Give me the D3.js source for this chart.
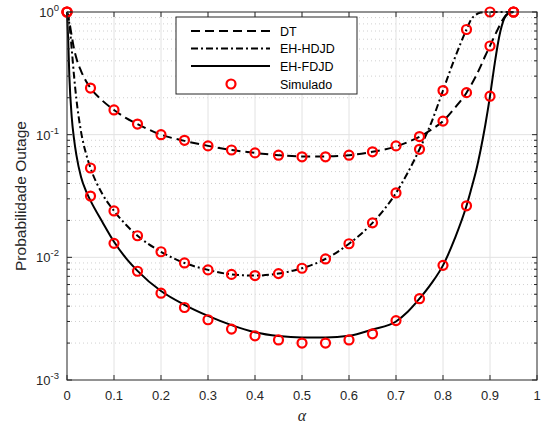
<!DOCTYPE html>
<html>
<head>
<meta charset="utf-8">
<script src="https://cdn.jsdelivr.net/npm/d3@7"></script>
<style>
  html, body { margin: 0; padding: 0; background: #fff; }
  svg { display: block; font-family: "Liberation Sans", Arial, sans-serif; }
</style>
</head>
<body>
<svg id="chart" width="543" height="425"></svg>
<script>
// simulated points (every 0.05)
const alphaSim = [0, 0.05, 0.1, 0.15, 0.2, 0.25, 0.3, 0.35, 0.4, 0.45, 0.5, 0.55, 0.6, 0.65, 0.7, 0.75, 0.8, 0.85, 0.9, 0.95];
const simDT   = [1, 0.240, 0.159, 0.122, 0.100, 0.090, 0.081, 0.075, 0.071, 0.068, 0.066, 0.066, 0.068, 0.0725, 0.081, 0.0965, 0.129, 0.220, 0.528, 1];
const simHDJD = [1, 0.0535, 0.0239, 0.0150, 0.0111, 0.0090, 0.0079, 0.00726, 0.0071, 0.00737, 0.00815, 0.0097, 0.0129, 0.0191, 0.0335, 0.076, 0.229, 0.72, 1, 1];
const simFDJD = [1, 0.0316, 0.0130, 0.0077, 0.0051, 0.0039, 0.0031, 0.0026, 0.00229, 0.00212, 0.0020, 0.0020, 0.00212, 0.00238, 0.00305, 0.0046, 0.0086, 0.0263, 0.206, 1];

// analytic curves
const alphaTh = [0, 0.0025, 0.005, 0.01, 0.015, 0.02, 0.03, 0.04, 0.05, 0.075, 0.1, 0.125, 0.15, 0.2, 0.25, 0.3, 0.35, 0.4, 0.45, 0.5, 0.55, 0.6, 0.65, 0.7, 0.725, 0.75, 0.775, 0.8, 0.825, 0.85, 0.86, 0.87, 0.88, 0.89, 0.9, 0.91, 0.92, 0.93, 0.94, 0.95];
const thDT   = [1, 0.92, 0.83, 0.64, 0.50, 0.42, 0.33, 0.275, 0.240, 0.19, 0.159, 0.137, 0.122, 0.100, 0.089, 0.081, 0.075, 0.071, 0.068, 0.0665, 0.0665, 0.068, 0.0725, 0.080, 0.087, 0.096, 0.110, 0.129, 0.165, 0.220, 0.255, 0.30, 0.36, 0.44, 0.53, 0.64, 0.77, 0.90, 0.98, 1];
const thHDJD = [1, 0.92, 0.80, 0.50, 0.30, 0.195, 0.105, 0.071, 0.0535, 0.033, 0.0239, 0.0185, 0.0150, 0.0111, 0.0090, 0.0079, 0.00726, 0.0071, 0.00737, 0.00815, 0.0097, 0.0129, 0.0191, 0.0335, 0.049, 0.076, 0.125, 0.229, 0.42, 0.72, 0.87, 0.95, 0.99, 1, 1, 1, 1, 1, 1, 1];
const thFDJD = [1, 0.60, 0.30, 0.14, 0.092, 0.068, 0.045, 0.035, 0.029, 0.0195, 0.0134, 0.0099, 0.00776, 0.00531, 0.0041, 0.00333, 0.0028, 0.00245, 0.00228, 0.00222, 0.00222, 0.00229, 0.00258, 0.0030, 0.0036, 0.0046, 0.0061, 0.0086, 0.0142, 0.0263, 0.036, 0.050, 0.075, 0.12, 0.206, 0.38, 0.64, 0.88, 0.98, 1];

const xTicks = [0, 0.1, 0.2, 0.3, 0.4, 0.5, 0.6, 0.7, 0.8, 0.9, 1];
const yTicks = [1e-3, 1e-2, 1e-1, 1];
const seriesNames = ['DT', 'EH-HDJD', 'EH-FDJD', 'Simulado'];

const width = 543, height = 425;
const margin = { top: 12, right: 6, bottom: 45, left: 67 };
const axisColor = '#262626';

const svg = d3.select('#chart');

const x = d3.scaleLinear([0, 1], [margin.left, width - margin.right]);
const y = d3.scaleLog([1e-3, 1], [height - margin.bottom, margin.top]);

const [x0, x1] = x.range();
const [y0, y1] = y.range();

// grid
const minorY = [];
[1e-3, 1e-2, 1e-1].forEach(d => { for (let k = 2; k <= 9; k++) minorY.push(d * k); });

const grid = svg.append('g');
grid.selectAll('.minor-y')
  .data(minorY)
  .join('line')
    .attr('x1', x0).attr('x2', x1)
    .attr('y1', d => y(d)).attr('y2', d => y(d))
    .attr('stroke', '#c4c4c4')
    .attr('stroke-width', 0.8)
    .attr('stroke-dasharray', '1,3');
grid.selectAll('.major-y')
  .data(yTicks.slice(1, -1))
  .join('line')
    .attr('x1', x0).attr('x2', x1)
    .attr('y1', d => y(d)).attr('y2', d => y(d))
    .attr('stroke', '#e2e2e2')
    .attr('stroke-width', 1);
grid.selectAll('.major-x')
  .data(xTicks.slice(1, -1))
  .join('line')
    .attr('x1', d => x(d)).attr('x2', d => x(d))
    .attr('y1', y0).attr('y2', y1)
    .attr('stroke', '#e2e2e2')
    .attr('stroke-width', 1);

// curves
const styles = [
  { data: thDT, dash: '9,5' },
  { data: thHDJD, dash: '7,3,2,3' },
  { data: thFDJD, dash: null }
];

const line = d3.line()
  .x(d => x(d[0]))
  .y(d => y(d[1]))
  .curve(d3.curveMonotoneX);

const plot = svg.append('g');
styles.forEach(s => {
  plot.append('path')
    .datum(alphaTh.map((a, i) => [a, s.data[i]]))
    .attr('d', line)
    .attr('fill', 'none')
    .attr('stroke', '#000')
    .attr('stroke-width', 2)
    .attr('stroke-dasharray', s.dash);
});

const simPoints = [];
[simDT, simHDJD, simFDJD].forEach(arr => {
  arr.forEach((v, i) => simPoints.push([alphaSim[i], v]));
});

plot.selectAll('.sim-point')
  .data(simPoints)
  .join('circle')
    .attr('class', 'sim-point')
    .attr('cx', d => x(d[0]))
    .attr('cy', d => y(d[1]))
    .attr('r', 4.5)
    .attr('fill', 'none')
    .attr('stroke', '#ff0000')
    .attr('stroke-width', 2.2);

// axes box + ticks
const axes = svg.append('g')
  .attr('stroke', axisColor)
  .attr('stroke-width', 1);

axes.append('rect')
  .attr('x', x0).attr('y', y1)
  .attr('width', x1 - x0).attr('height', y0 - y1)
  .attr('fill', 'none');

const tl = 5, tlMinor = 3;
xTicks.forEach(t => {
  axes.append('line').attr('x1', x(t)).attr('x2', x(t)).attr('y1', y0).attr('y2', y0 - tl);
  axes.append('line').attr('x1', x(t)).attr('x2', x(t)).attr('y1', y1).attr('y2', y1 + tl);
});
yTicks.forEach(t => {
  axes.append('line').attr('x1', x0).attr('x2', x0 + tl).attr('y1', y(t)).attr('y2', y(t));
  axes.append('line').attr('x1', x1).attr('x2', x1 - tl).attr('y1', y(t)).attr('y2', y(t));
});
minorY.forEach(t => {
  axes.append('line').attr('x1', x0).attr('x2', x0 + tlMinor).attr('y1', y(t)).attr('y2', y(t));
  axes.append('line').attr('x1', x1).attr('x2', x1 - tlMinor).attr('y1', y(t)).attr('y2', y(t));
});

// tick labels
svg.append('g')
  .selectAll('text')
  .data(xTicks)
  .join('text')
    .attr('x', d => x(d))
    .attr('y', y0 + 20)
    .attr('text-anchor', 'middle')
    .attr('font-size', 13)
    .attr('fill', axisColor)
    .text(d => d3.format('~g')(d));

const yLab = svg.append('g')
  .selectAll('text')
  .data(yTicks)
  .join('text')
    .attr('x', x0 - 8)
    .attr('y', d => y(d) + 5)
    .attr('text-anchor', 'end')
    .attr('font-size', 13)
    .attr('fill', axisColor);
yLab.append('tspan').text('10');
yLab.append('tspan')
  .attr('dy', -6)
  .attr('font-size', 9.5)
  .text(d => Math.round(Math.log10(d)));

// axis titles
svg.append('text')
  .attr('x', (x0 + x1) / 2)
  .attr('y', 421)
  .attr('text-anchor', 'middle')
  .attr('font-family', '"Liberation Serif", "Times New Roman", serif')
  .attr('font-style', 'italic')
  .attr('font-size', 16)
  .attr('fill', axisColor)
  .text('α');

svg.append('text')
  .attr('transform', `translate(26, ${(y0 + y1) / 2}) rotate(-90)`)
  .attr('text-anchor', 'middle')
  .attr('font-size', 15.5)
  .attr('fill', axisColor)
  .text('Probabilidade Outage');

// legend
const legend = svg.append('g').attr('transform', 'translate(176,17)');
legend.append('rect')
  .attr('width', 181).attr('height', 77)
  .attr('fill', '#fff')
  .attr('stroke', axisColor)
  .attr('stroke-width', 1);

const rowY = [14, 31.5, 49, 67];
seriesNames.forEach((name, i) => {
  const g = legend.append('g').attr('transform', `translate(0,${rowY[i]})`);
  if (i < 3) {
    g.append('line')
      .attr('x1', 15).attr('x2', 94)
      .attr('stroke', '#000')
      .attr('stroke-width', 2)
      .attr('stroke-dasharray', styles[i].dash);
  } else {
    g.append('circle')
      .attr('cx', 55).attr('r', 4.5)
      .attr('fill', 'none')
      .attr('stroke', '#ff0000')
      .attr('stroke-width', 2.2);
  }
  g.append('text')
    .attr('x', 104)
    .attr('y', 4.5)
    .attr('font-size', 12.5)
    .attr('fill', '#000')
    .text(name);
});
</script>
</body>
</html>
